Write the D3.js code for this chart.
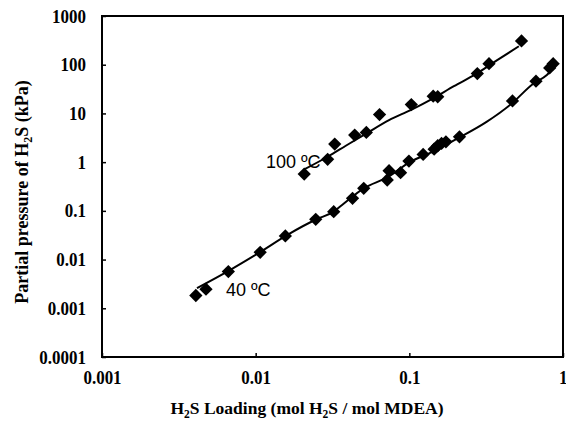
<!DOCTYPE html>
<html><head><meta charset="utf-8">
<script src="https://cdn.jsdelivr.net/npm/d3@7"></script>
<style>
body{margin:0;background:#fff;}
svg{display:block;}
</style></head>
<body>
<svg id="chart" width="566" height="428"></svg>
<script>
// ---- data ----
const xTicks = [0.001, 0.01, 0.1, 1];
const xTickLabels = ["0.001", "0.01", "0.1", "1"];
const yTicks = [0.0001, 0.001, 0.01, 0.1, 1, 10, 100, 1000];
const yTickLabels = ["0.0001", "0.001", "0.01", "0.1", "1", "10", "100", "1000"];

// 100 °C experimental points (loading, partial pressure kPa)
const load100 = [0.0207, 0.0294, 0.0327, 0.0441, 0.0525, 0.064, 0.103, 0.143, 0.153, 0.277, 0.33, 0.537];
const pres100 = [0.57, 1.14, 2.35, 3.59, 4.07, 9.5, 15.2, 22.6, 22.0, 65.8, 105, 308];
// 100 °C model curve
const curveLoad100 = [0.0207, 0.0294, 0.0386, 0.0533, 0.0738, 0.102, 0.141, 0.195, 0.270, 0.373, 0.516];
const curvePres100 = [0.71, 1.29, 2.17, 4.0, 7.3, 11.7, 19.9, 36.2, 63.8, 124, 239];

// 40 °C experimental points
const load40 = [0.00408, 0.00475, 0.00664, 0.0107, 0.0156, 0.0246, 0.0322, 0.0427, 0.0505, 0.0718, 0.0738, 0.0877, 0.0994, 0.123, 0.145, 0.153, 0.162, 0.173, 0.212, 0.469, 0.667, 0.819, 0.863];
const pres40 = [0.00183, 0.00247, 0.00568, 0.0141, 0.0305, 0.0671, 0.0964, 0.181, 0.290, 0.430, 0.667, 0.607, 1.05, 1.44, 1.85, 2.17, 2.42, 2.62, 3.31, 18.1, 45.8, 85.9, 105];
// 40 °C model curve
const curveLoad40 = [0.00415, 0.0068, 0.0107, 0.016, 0.0251, 0.0318, 0.0365, 0.0505, 0.0718, 0.102, 0.141, 0.212, 0.318, 0.464, 0.637, 0.785, 0.899];
const curvePres40 = [0.0026, 0.0061, 0.0143, 0.0318, 0.068, 0.094, 0.132, 0.29, 0.486, 1.02, 1.63, 3.21, 6.7, 16.0, 40.2, 61.5, 98.6];

const labels = [
  {text: "100 ºC", x: 0.01167, y: 1.05},
  {text: "40 ºC", x: 0.00641, y: 0.00248}
];

// ---- layout ----
const svg = d3.select("#chart");
const L = 102, R = 563, T = 16, B = 357;
const x = d3.scaleLog().domain([0.001, 1]).range([L, R]);
const y = d3.scaleLog().domain([0.0001, 1000]).range([B, T]);

const tickFont = "'Liberation Serif','Times New Roman',serif";
const tickSize = 17;
const vStretch = 1.12;

// axes
const yAxis = d3.axisLeft(y).tickValues(yTicks)
  .tickFormat((d, i) => yTickLabels[i]).tickSize(-4).tickPadding(16);
const gy = svg.append("g").attr("transform", `translate(${L},0)`).call(yAxis);
gy.select(".domain").remove();
gy.selectAll(".tick line").attr("stroke", "#000").attr("stroke-width", 1.5);
gy.selectAll(".tick text").attr("font-family", tickFont).attr("font-weight", "bold")
  .attr("font-size", tickSize).attr("fill", "#000")
  .attr("transform", `scale(1,${vStretch})`);

const xAxis = d3.axisBottom(x).tickValues(xTicks)
  .tickFormat((d, i) => xTickLabels[i]).tickSize(-4).tickPadding(12);
const gx = svg.append("g").attr("transform", `translate(0,${B})`).call(xAxis);
gx.select(".domain").remove();
gx.selectAll(".tick line").attr("stroke", "#000").attr("stroke-width", 1.5);
gx.selectAll(".tick text").attr("font-family", tickFont).attr("font-weight", "bold")
  .attr("font-size", tickSize).attr("fill", "#000")
  .attr("transform", `scale(1,${vStretch})`);
// keep the last label inside the page
gx.selectAll(".tick text").filter((d, i) => i === xTicks.length - 1)
  .attr("text-anchor", "end").attr("x", 4);

// frame
svg.append("rect").attr("x", L).attr("y", T).attr("width", R - L).attr("height", B - T)
  .attr("fill", "none").attr("stroke", "#000").attr("stroke-width", 2);

// curves
const line = d3.line().x(d => x(d[0])).y(d => y(d[1])).curve(d3.curveMonotoneX);
const c100 = curveLoad100.map((v, i) => [v, curvePres100[i]]);
const c40 = curveLoad40.map((v, i) => [v, curvePres40[i]]);
[c100, c40].forEach(c => {
  svg.append("path").attr("d", line(c)).attr("fill", "none")
    .attr("stroke", "#000").attr("stroke-width", 2);
});

// markers
const sym = d3.symbol(d3.symbolSquare, 88);
const pts = load100.map((v, i) => [v, pres100[i]]).concat(load40.map((v, i) => [v, pres40[i]]));
svg.append("g").selectAll("path").data(pts).join("path")
  .attr("d", sym)
  .attr("transform", d => `translate(${x(d[0])},${y(d[1])}) rotate(45)`)
  .attr("fill", "#000");

// curve labels
svg.append("g").selectAll("text").data(labels).join("text")
  .attr("x", d => x(d.x)).attr("y", d => y(d.y))
  .attr("dy", "0.36em")
  .attr("font-family", "'Liberation Sans',Arial,sans-serif")
  .attr("font-size", 18).attr("fill", "#000")
  .text(d => d.text);

// axis titles
const title = svg.append("g").attr("font-family", tickFont).attr("font-weight", "bold")
  .attr("font-size", 17.5).attr("fill", "#000");
const xt = title.append("text").attr("x", 307).attr("y", 414).attr("text-anchor", "middle");
xt.append("tspan").text("H");
xt.append("tspan").attr("font-size", 11.5).attr("dy", 4).text("2");
xt.append("tspan").attr("dy", -4).text("S Loading (mol H");
xt.append("tspan").attr("font-size", 11.5).attr("dy", 4).text("2");
xt.append("tspan").attr("dy", -4).text("S / mol MDEA)");

const yt = title.append("text").attr("transform", "translate(28,192) rotate(-90)")
  .attr("text-anchor", "middle").attr("font-size", 18);
yt.append("tspan").text("Partial pressure of H");
yt.append("tspan").attr("font-size", 12).attr("dy", 4).text("2");
yt.append("tspan").attr("dy", -4).text("S (kPa)");
</script>
</body></html>
